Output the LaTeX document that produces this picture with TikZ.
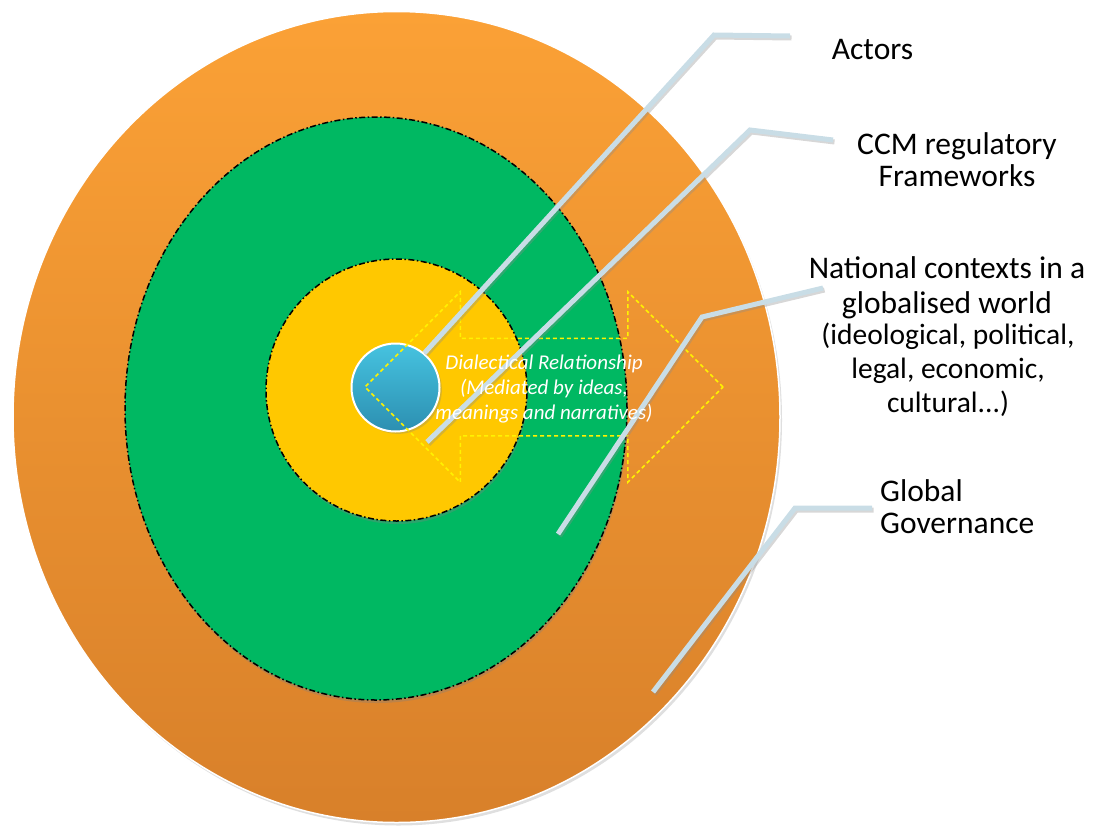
\documentclass[tikz,border=0pt]{standalone}
\usepackage{fontspec}
\setmainfont{Carlito}
\usetikzlibrary{positioning}
\usetikzlibrary{shapes.geometric}
\usetikzlibrary{shapes.arrows}
\usetikzlibrary{shadows}
\definecolor{govtop}{HTML}{FBA136}
\definecolor{govbot}{HTML}{D8802A}
\definecolor{ccmgreen}{HTML}{00B862}
\definecolor{natyellow}{HTML}{FFC800}
\definecolor{acttop}{HTML}{46C3E0}
\definecolor{actbot}{HTML}{2C8FB1}
\definecolor{callblue}{HTML}{C9DDE6}
\tikzset{disc/.style={ellipse, inner sep=0pt}}
\tikzset{ring/.style={disc, draw=black, line width=1.5pt, dash pattern=on 6pt off 2.5pt on 1.5pt off 2.5pt}}
\tikzset{callout/.style={draw=callblue, line width=5pt,
    preaction={draw=black!45, opacity=.35, line width=5pt, transform canvas={shift={(1.5pt,-2pt)}}}}}
\tikzset{lbl/.style={font=\fontsize{31.5}{32}\selectfont, align=center, inner sep=0pt}}

\begin{document}
\begin{tikzpicture}[x=1pt, y=-1pt]
        \useasboundingbox (0,0) rectangle (1097,825);
        \node[disc, top color=govtop, bottom color=govbot, draw=white, line width=1.5pt,
            drop shadow={shadow xshift=2pt, shadow yshift=-3pt, opacity=.25},
            minimum width=767pt, minimum height=811pt] (Glob) at (396.5,417) {};
        \node[ring, fill=ccmgreen, drop shadow={shadow xshift=1pt, shadow yshift=-3pt, opacity=.35},
            minimum width=502pt, minimum height=583pt] (CCM) at (376,408.5) {};
        \node[ring, fill=natyellow, drop shadow={shadow xshift=1pt, shadow yshift=-3pt, opacity=.35},
            minimum width=261pt, minimum height=262pt] (Nat) at (396.5,390) {};
        \node[circle, inner sep=0pt, minimum size=88pt, top color=acttop, bottom color=actbot,
            draw=white, line width=2pt, drop shadow={opacity=.3}] (Act) at (395.5,387.5) {};
        \node[double arrow, draw=yellow, line width=1.5pt, dash pattern=on 4pt off 3pt,
            inner xsep=0pt, inner ysep=48pt, minimum height=358pt, double arrow head extend=46.5pt,
            double arrow tip angle=90] (Dial) at (544,387) {};
        \coordinate (actBend) at (714,35);
        \coordinate (actTail) at (790,36);
        \coordinate (ccmEnd) at (427,442);
        \coordinate (ccmBend) at (750,130);
        \coordinate (ccmTail) at (833,140);
        \coordinate (natEnd) at (558,534);
        \coordinate (natBend) at (702,317);
        \coordinate (natTail) at (823,288);
        \coordinate (globEnd) at (653,692);
        \coordinate (globBend) at (795,508);
        \coordinate (globTail) at (872,508);
        \draw[callout] (Act.50) -- (actBend) -- (actTail);
        \draw[callout] (ccmEnd) -- (ccmBend) -- (ccmTail);
        \draw[callout] (natEnd) -- (natBend) -- (natTail);
        \draw[callout] (globEnd) -- (globBend) -- (globTail);
        \node[font=\fontsize{21}{25}\selectfont\itshape, text=white, align=center, inner sep=0pt]
            (DialTxt) at (544,389.5) {Dialectical Relationship\\(Mediated by ideas,\\meanings and narratives)};
        \node[lbl] (actLbl) at (872.5,50) {Actors};
        \node[lbl] (ccmLbl) at (957,160) {CCM regulatory\\Frameworks};
        \node[lbl, font=\fontsize{31.5}{35}\selectfont] (natLbl) at (947,288) {National contexts in a\\globalised world};
        \node[lbl, font=\fontsize{29.5}{34}\selectfont] (natSub) at (948,370) {(ideological, political,\\legal, economic,\\cultural...)};
        \node[lbl, align=left, anchor=west] (globLbl) at (880,506.5) {Global\\Governance};
    \end{tikzpicture}
\end{document}
